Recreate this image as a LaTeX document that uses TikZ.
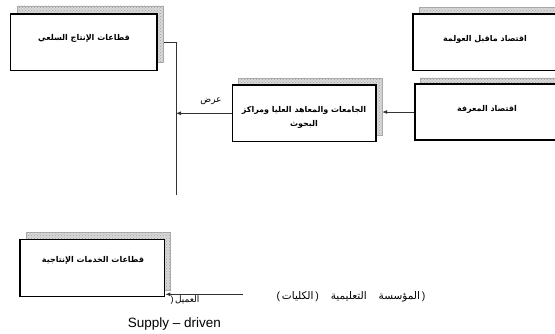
\documentclass[tikz,border=0pt]{standalone}
\usepackage{fontspec}
\setmainfont{Liberation Sans}
\newfontfamily\arfont[Script=Arabic]{DejaVu Sans}
\newcommand\lp{{\rmfamily(}}
\newcommand\rp{{\rmfamily)}}
\TeXXeTstate=1
\usetikzlibrary{arrows.meta,backgrounds,patterns}
\begin{document}
\begin{tikzpicture}[x=1pt,y=-1pt,
 frontbox/.style={draw=black,line width=1.5pt,fill=white,inner sep=0pt},
 shadowbox/.style={draw=gray!65,line width=0.4pt,fill=gray!30,inner sep=0pt,
   postaction={pattern=crosshatch dots,pattern color=gray!75}},
 artext/.style={font=\arfont\bfseries\fontsize{8}{14}\selectfont,inner sep=0pt},
 plaintext/.style={font=\arfont\fontsize{9}{12}\selectfont,inner sep=0pt},
 conn/.style={draw=black!80,line width=0.8pt},
 arr/.style={conn,-{Latex[length=5pt,width=4pt]}}]
\useasboundingbox (0,0) rectangle (555,333);

% front boxes
\node[frontbox,minimum width=146.4pt,minimum height=56.7pt] (A) at (83.8,42.3) {};
\node[frontbox,minimum width=143.4pt,minimum height=56.7pt] (M) at (304.3,113.3) {};
\node[frontbox,minimum width=146pt,minimum height=56.7pt] (R1) at (486,42.3) {};
\node[frontbox,minimum width=146pt,minimum height=56pt] (R2) at (488,112) {};
\node[frontbox,minimum width=144.6pt,minimum height=57.4pt] (B) at (92.3,268) {};

% shadows
\begin{scope}[on background layer]
\node[shadowbox,minimum width=146.4pt,minimum height=56.7pt] (As) at ([shift={(6.5pt,8pt)}]A.center) {};
\node[shadowbox,minimum width=143.4pt,minimum height=56.7pt] (Ms) at ([shift={(6pt,6.3pt)}]M.center) {};
\node[shadowbox,minimum width=146pt,minimum height=56.7pt] (R1s) at ([shift={(6pt,6.7pt)}]R1.center) {};
\node[shadowbox,minimum width=146pt,minimum height=56pt] (R2s) at ([shift={(5pt,6.3pt)}]R2.center) {};
\node[shadowbox,minimum width=144.6pt,minimum height=57.4pt] (Bs) at ([shift={(6pt,7pt)}]B.center) {};
\end{scope}

% texts in boxes
\node[artext] (At) at (84,38.5) {\beginR قطاعات الإنتاج السلعي\endR};
\node[artext,align=center] (Mt) at (304,117) {\beginR الجامعات والمعاهد العليا ومراكز\endR\\\beginR البحوث\endR};
\node[artext] (R1t) at (485,39) {\beginR اقتصاد ماقبل العولمة\endR};
\node[artext] (R2t) at (487,109) {\beginR اقتصاد المعرفة\endR};
\node[artext] (Bt) at (93,260) {\beginR قطاعات الخدمات الإنتاجية\endR};

% connectors
\coordinate (J1) at (176,42.3);
\coordinate (J2) at (176,195);
\draw[conn] (As.east |- A.center) -- (J1) -- (J2);
\draw[arr] (M.west) -- (J1 |- M.west);
\node[plaintext] (lbl) at (211,101.7) {\beginR عرض\endR};
\draw[arr] (R2.west) -- (Ms.east |- R2.west);
\coordinate (L2) at (242.5,294.3);
\draw[arr] (L2) -- (B.east |- L2);

% bottom texts
\node[plaintext] (cl) at (185,300) {\rp\,\beginR العميل\endR};
\node[plaintext,font=\arfont\fontsize{10.5}{12}\selectfont] (inst) at (351,296.7) {\lp\,\beginR الكليات\endR\,\rp\hspace{12pt}\beginR المؤسسة\hspace{12pt}التعليمية\endR\,\rp};
\node[inner sep=0pt,font=\fontsize{13.5}{15}\selectfont] (sd) at (174.5,324) {Supply – driven};
\end{tikzpicture}
\end{document}
